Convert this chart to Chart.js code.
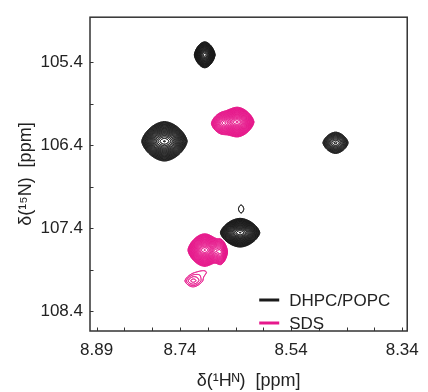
<!DOCTYPE html>
<html>
<head>
<meta charset="UTF-8">
<script src="https://cdn.jsdelivr.net/npm/chart.js"></script>
<style>
  html, body { margin: 0; padding: 0; background: #ffffff; }
  canvas { display: block; }
</style>
</head>
<body>
<canvas id="nmr" width="428" height="392"></canvas>
<script>
// Peak list: 1H shift, 15N shift, relative height, half-widths (ppm)
// DHPC/POPC (black)
const dhpcH = [8.6955, 8.7680, 8.4600, 8.6318, 8.6300];
const dhpcN = [105.313, 106.355, 106.373, 107.456, 107.170];
const dhpcHeight = [16, 20, 5, 20, 1.15];
const dhpcWidthH = [0.0104, 0.0218, 0.0172, 0.0189, 0.0147];
const dhpcWidthN = [0.079, 0.114, 0.093, 0.083, 0.176];
const dhpcGroup = [0, 1, 2, 3, 4];

// SDS (magenta)
const sdsH = [8.6371, 8.6640, 8.6955, 8.6672, 8.7167, 8.6955];
const sdsN = [106.123, 106.140, 107.665, 107.690, 108.036, 107.929];
const sdsHeight = [20, 5, 20, 6, 1.65, 0.85];
const sdsWidthH = [0.0161, 0.0146, 0.0161, 0.0088, 0.0210, 0.018];
const sdsWidthN = [0.0856, 0.089, 0.094, 0.098, 0.113, 0.088];
const sdsGroup = [0, 0, 1, 1, 2, 2];

// axes
const xTicks = [8.89, 8.84, 8.79, 8.74, 8.69, 8.64, 8.59, 8.54, 8.49, 8.44, 8.39, 8.34];
const xLabels = [8.89, 8.74, 8.54, 8.34];
const yTicks = [105.4, 105.9, 106.4, 106.9, 107.4, 107.9, 108.4];
const yLabels = [105.4, 106.4, 107.4, 108.4];

const BLACK = '#1a1a1a';
const MAGENTA = '#e6188c';
const TEXT = '#222222';
const FONT = "'Liberation Sans', Arial, 'DejaVu Sans', sans-serif";

const SHAPE_PX = 1.75;     // peak shape exponents: rounded top/bottom,
const SHAPE_PY = 1.5;      // sharper left/right tips
const LEVEL_FACTOR = 1.17; // contour level multiplier
const BASE_LEVEL = 1;

function hasLabel(list, v) {
    return list.some(l => Math.abs(l - v) < 1e-6);
}

// marching squares segment table: T=0, R=1, B=2, L=3
const CASES = {
    1: [3, 2], 2: [2, 1], 3: [3, 1], 4: [0, 1], 5: [3, 0, 2, 1], 6: [0, 2], 7: [3, 0],
    8: [3, 0], 9: [0, 2], 10: [0, 1, 3, 2], 11: [0, 1], 12: [3, 1], 13: [2, 1], 14: [3, 2]
};

function drawSpectrum(chart, H, N, A, WH, WN, G, color) {
    const xs = chart.scales.x, ys = chart.scales.y, ctx = chart.ctx;
    const groups = [...new Set(G)];
    ctx.strokeStyle = color;
    ctx.lineWidth = 0.6;
    ctx.lineCap = 'round';

    groups.forEach(g => {
        const idx = G.map((v, i) => v === g ? i : -1).filter(i => i >= 0);
        let px0 = Infinity, px1 = -Infinity, py0 = Infinity, py1 = -Infinity;
        idx.forEach(i => {
            const a = xs.getPixelForValue(H[i] - 3.5 * WH[i]);
            const b = xs.getPixelForValue(H[i] + 3.5 * WH[i]);
            const c = ys.getPixelForValue(N[i] - 3.5 * WN[i]);
            const d = ys.getPixelForValue(N[i] + 3.5 * WN[i]);
            px0 = Math.min(px0, a, b); px1 = Math.max(px1, a, b);
            py0 = Math.min(py0, c, d); py1 = Math.max(py1, c, d);
        });
        const step = 0.5;
        const nx = Math.ceil((px1 - px0) / step) + 1;
        const ny = Math.ceil((py1 - py0) / step) + 1;
        const hv = [], nv = [];
        for (let i = 0; i < nx; i++) hv.push(xs.getValueForPixel(px0 + i * step));
        for (let j = 0; j < ny; j++) nv.push(ys.getValueForPixel(py0 + j * step));

        const vals = new Float32Array(nx * ny);
        let vmax = 0;
        for (let j = 0; j < ny; j++) {
            for (let i = 0; i < nx; i++) {
                let s = 0;
                idx.forEach(k => {
                    const u = Math.abs((hv[i] - H[k]) / WH[k]);
                    const w = Math.abs((nv[j] - N[k]) / WN[k]);
                    s += A[k] * Math.exp(-(Math.pow(u, SHAPE_PX) + Math.pow(w, SHAPE_PY)));
                });
                vals[j * nx + i] = s;
                if (s > vmax) vmax = s;
            }
        }

        for (let L = BASE_LEVEL; L < vmax; L *= LEVEL_FACTOR) {
            ctx.beginPath();
            for (let j = 0; j < ny - 1; j++) {
                for (let i = 0; i < nx - 1; i++) {
                    const a = vals[j * nx + i], b = vals[j * nx + i + 1];
                    const c = vals[(j + 1) * nx + i + 1], d = vals[(j + 1) * nx + i];
                    const code = (a >= L ? 8 : 0) | (b >= L ? 4 : 0) | (c >= L ? 2 : 0) | (d >= L ? 1 : 0);
                    if (code === 0 || code === 15) continue;
                    const x = px0 + i * step, y = py0 + j * step;
                    const pt = e => {
                        if (e === 0) return [x + (L - a) / (b - a) * step, y];
                        if (e === 1) return [x + step, y + (L - b) / (c - b) * step];
                        if (e === 2) return [x + (L - d) / (c - d) * step, y + step];
                        return [x, y + (L - a) / (d - a) * step];
                    };
                    const segs = CASES[code];
                    for (let s = 0; s < segs.length; s += 2) {
                        const p1 = pt(segs[s]), p2 = pt(segs[s + 1]);
                        ctx.moveTo(p1[0], p1[1]);
                        ctx.lineTo(p2[0], p2[1]);
                    }
                }
            }
            ctx.stroke();
        }
    });
}

const contourPlugin = {
    id: 'contours',
    afterDatasetsDraw(chart) {
        const ctx = chart.ctx, area = chart.chartArea;
        ctx.save();
        ctx.beginPath();
        ctx.rect(area.left, area.top, area.right - area.left, area.bottom - area.top);
        ctx.clip();
        drawSpectrum(chart, dhpcH, dhpcN, dhpcHeight, dhpcWidthH, dhpcWidthN, dhpcGroup, BLACK);
        drawSpectrum(chart, sdsH, sdsN, sdsHeight, sdsWidthH, sdsWidthN, sdsGroup, MAGENTA);
        ctx.restore();
    },
    afterDraw(chart) {
        const ctx = chart.ctx, area = chart.chartArea;
        const xs = chart.scales.x, ys = chart.scales.y;
        ctx.save();
        // frame
        ctx.strokeStyle = '#333333';
        ctx.lineWidth = 1.5;
        ctx.strokeRect(area.left, area.top, area.right - area.left, area.bottom - area.top);
        // inward tick marks
        ctx.lineWidth = 1;
        ctx.beginPath();
        xTicks.forEach(v => {
            const px = Math.round(xs.getPixelForValue(v)) + 0.5;
            ctx.moveTo(px, area.bottom);
            ctx.lineTo(px, area.bottom - 3.5);
        });
        yTicks.forEach(v => {
            const py = Math.round(ys.getPixelForValue(v)) + 0.5;
            ctx.moveTo(area.left, py);
            ctx.lineTo(area.left + 3.5, py);
        });
        ctx.stroke();
        // legend
        const items = [
            { text: 'DHPC/POPC', color: BLACK },
            { text: 'SDS', color: MAGENTA }
        ];
        ctx.font = '17px ' + FONT;
        ctx.textBaseline = 'middle';
        items.forEach((it, k) => {
            const y = area.bottom - 31 + k * 23;
            ctx.strokeStyle = it.color;
            ctx.lineWidth = 3;
            ctx.beginPath();
            ctx.moveTo(area.right - 148, y);
            ctx.lineTo(area.right - 128, y);
            ctx.stroke();
            ctx.fillStyle = TEXT;
            ctx.fillText(it.text, area.right - 118, y + 1);
        });
        ctx.restore();
    }
};

new Chart(document.getElementById('nmr'), {
    type: 'scatter',
    data: {
        datasets: [
            {
                label: 'DHPC/POPC',
                data: dhpcH.map((h, i) => ({ x: h, y: dhpcN[i] })),
                pointRadius: 0,
                borderColor: BLACK,
                backgroundColor: BLACK
            },
            {
                label: 'SDS',
                data: sdsH.map((h, i) => ({ x: h, y: sdsN[i] })),
                pointRadius: 0,
                borderColor: MAGENTA,
                backgroundColor: MAGENTA
            }
        ]
    },
    options: {
        animation: false,
        responsive: false,
        devicePixelRatio: 1,
        layout: { padding: { top: 14, right: 15, left: 0, bottom: 0 } },
        plugins: {
            legend: { display: false },
            tooltip: { enabled: false }
        },
        scales: {
            x: {
                type: 'linear',
                min: 8.331,
                max: 8.902,
                reverse: true,
                grid: { display: false, drawTicks: false },
                border: { display: false },
                afterBuildTicks: s => { s.ticks = xTicks.map(v => ({ value: v })); },
                afterFit: s => { s.height = 61; },
                ticks: {
                    autoSkip: false,
                    maxRotation: 0,
                    padding: 9,
                    color: TEXT,
                    font: { family: FONT, size: 17 },
                    callback: v => hasLabel(xLabels, v) ? v.toFixed(2) : ''
                },
                title: {
                    display: true,
                    text: 'δ(¹Hᴺ)  [ppm]',
                    color: TEXT,
                    font: { family: FONT, size: 18 },
                    padding: { top: 0, bottom: 0 }
                }
            },
            y: {
                type: 'linear',
                min: 104.86,
                max: 108.64,
                reverse: true,
                grid: { display: false, drawTicks: false },
                border: { display: false },
                afterBuildTicks: s => { s.ticks = yTicks.map(v => ({ value: v })); },
                afterFit: s => { s.width = 90; },
                ticks: {
                    autoSkip: false,
                    padding: 7,
                    color: TEXT,
                    font: { family: FONT, size: 17 },
                    callback: v => hasLabel(yLabels, v) ? v.toFixed(1) : ''
                },
                title: {
                    display: true,
                    text: 'δ(¹⁵N)  [ppm]',
                    color: TEXT,
                    font: { family: FONT, size: 18 },
                    padding: { top: 15, bottom: 0 }
                }
            }
        }
    },
    plugins: [contourPlugin]
});
</script>
</body>
</html>
